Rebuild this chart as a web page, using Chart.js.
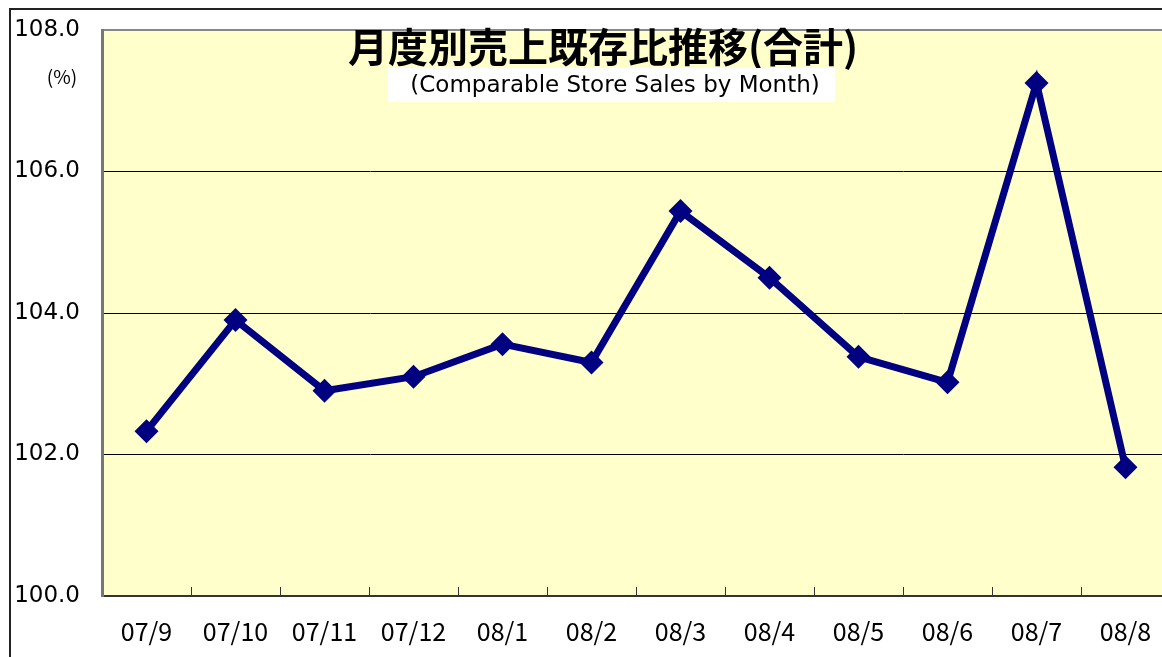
<!DOCTYPE html>
<html>
<head>
<meta charset="utf-8">
<script src="https://cdn.jsdelivr.net/npm/chart.js@4"></script>
<style>
  html, body { margin: 0; padding: 0; background: #fff; overflow: hidden; }
  #wrap { width: 1162px; height: 657px; overflow: hidden; }
</style>
</head>
<body>
<div id="wrap"><canvas id="myChart" width="1172" height="657"></canvas></div>
<script>
// data
var months = ["07/9", "07/10", "07/11", "07/12", "08/1", "08/2", "08/3", "08/4", "08/5", "08/6", "08/7", "08/8"];
var ratio = [102.33, 103.9, 102.9, 103.1, 103.56, 103.3, 105.44, 104.5, 103.38, 103.02, 107.25, 101.82];
var yTicks = [100, 102, 104, 106, 108];

var titleJa = "月度別売上既存比推移(合計)";
var titleEn = "(Comparable Store Sales by Month)";

var cjk = '"Noto Sans CJK JP", "Noto Sans", sans-serif';
var latin = '"DejaVu Sans", sans-serif';

// background, frame, titles and inward tick marks
var decor = {
    id: 'decor',
    beforeDraw: function (chart) {
        var c = chart.ctx, a = chart.chartArea;
        c.save();
        c.fillStyle = '#FFFFCC';
        c.fillRect(a.left, a.top, a.right - a.left, a.bottom - a.top);
        // outer frame
        c.strokeStyle = '#222';
        c.lineWidth = 2;
        c.beginPath();
        c.moveTo(10, 657);
        c.lineTo(10, 9);
        c.lineTo(chart.width, 9);
        c.stroke();
        c.restore();
    },
    afterDraw: function (chart) {
        var c = chart.ctx, a = chart.chartArea, x = chart.scales.x;
        c.save();
        // tick marks pointing inside the plot
        c.strokeStyle = '#333';
        c.lineWidth = 1;
        var half = (x.getPixelForValue(1) - x.getPixelForValue(0)) / 2;
        for (var i = 0; i < months.length; i++) {
            var px = Math.round(x.getPixelForValue(i) + half) + 0.5;
            c.beginPath();
            c.moveTo(px, a.bottom);
            c.lineTo(px, a.bottom - 9);
            c.stroke();
        }
        // "(%)"
        c.fillStyle = '#000';
        c.font = '19px ' + cjk;
        c.textAlign = 'center';
        c.textBaseline = 'middle';
        c.fillText('(%)', 62, 77);
        // title
        c.font = 'bold 40px ' + cjk;
        c.fillText(titleJa, a.left + 501, 47);
        // subtitle in white box
        c.fillStyle = '#fff';
        c.fillRect(a.left + 286, 68, 447, 34);
        c.fillStyle = '#000';
        c.font = '23px ' + latin;
        c.fillText(titleEn, a.left + 513, 86);
        c.restore();
    }
};

var ctx = document.getElementById('myChart').getContext('2d');
var chart = new Chart(ctx, {
    type: 'line',
    data: {
        labels: months,
        datasets: [{
            label: 'ratio',
            data: ratio,
            borderColor: '#000080',
            backgroundColor: '#000080',
            borderWidth: 7,
            tension: 0,
            pointStyle: 'rectRot',
            pointRadius: 12,
            pointHoverRadius: 12,
            pointBorderWidth: 0
        }]
    },
    options: {
        responsive: false,
        animation: false,
        events: [],
        layout: { autoPadding: false, padding: { left: 10, top: 30, right: 2, bottom: 0 } },
        plugins: {
            legend: { display: false },
            tooltip: { enabled: false }
        },
        scales: {
            x: {
                offset: true,
                grid: { display: false, drawTicks: true, tickLength: 20 },
                border: { display: true, color: '#333', width: 2 },
                ticks: {
                    color: '#000',
                    padding: 0,
                    maxRotation: 0,
                    autoSkip: false,
                    font: { family: cjk, size: 25 }
                },
                afterFit: function (s) { s.height = 61; }
            },
            y: {
                min: 100,
                max: 108,
                afterBuildTicks: function (s) {
                    s.ticks = yTicks.map(function (v) { return { value: v }; });
                },
                grid: {
                    drawTicks: true,
                    tickLength: 22,
                    tickColor: 'rgba(0,0,0,0)',
                    color: function (c) {
                        if (c.tick && c.tick.value === 108) return '#888';
                        return '#000';
                    },
                    lineWidth: function (c) {
                        if (c.tick && c.tick.value === 108) return 2;
                        return 1;
                    }
                },
                border: { display: true, color: '#777', width: 3 },
                ticks: {
                    color: '#000',
                    padding: 0,
                    font: { family: latin, size: 23 },
                    callback: function (v) { return v.toFixed(1); }
                },
                afterFit: function (s) { s.width = 92; }
            }
        }
    },
    plugins: [decor]
});
</script>
</body>
</html>
